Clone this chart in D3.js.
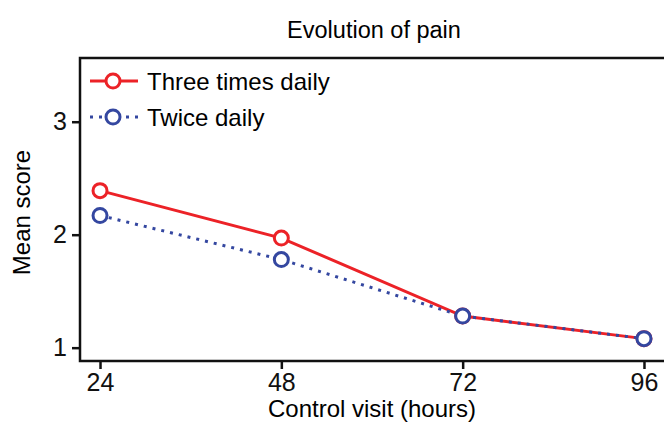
<!DOCTYPE html>
<html>
<head>
<meta charset="utf-8">
<script src="https://cdn.jsdelivr.net/npm/d3@7"></script>
<style>
  body { margin: 0; background: #fff; }
  svg { display: block; font-family: "Liberation Sans", Arial, sans-serif; }
</style>
</head>
<body>
<svg id="chart" width="664" height="422"></svg>
<script>
// data
const hours = [24, 48, 72, 96];
const threeTimesDaily = [2.39, 1.97, 1.28, 1.08];
const twiceDaily = [2.17, 1.78, 1.28, 1.08];
const yTicks = [1, 2, 3];
const seriesNames = ["Three times daily", "Twice daily"];

const svg = d3.select("#chart");
const plotLeft = 80, plotRight = 664, plotTop = 58, plotBottom = 361;

const x = d3.scaleLinear().domain([21.35, 98.65]).range([plotLeft, plotRight]);
const y = d3.scaleLinear().domain([0.882, 3.564]).range([plotBottom, plotTop]);

const red = "#ec2227";
const blue = "#3447a0";

// title
svg.append("text")
  .attr("x", 374).attr("y", 38)
  .attr("text-anchor", "middle")
  .attr("font-size", "23.5px")
  .text("Evolution of pain");

// axes
const xAxis = svg.append("g")
  .attr("transform", `translate(0,${plotBottom})`)
  .call(d3.axisBottom(x).tickValues(hours).tickSize(8).tickPadding(4).tickFormat(d3.format("d")));
const yAxis = svg.append("g")
  .attr("transform", `translate(${plotLeft},0)`)
  .call(d3.axisLeft(y).tickValues(yTicks).tickSize(8).tickPadding(5).tickFormat(d3.format("d")));

[xAxis, yAxis].forEach(a => {
  a.select(".domain").remove();
  a.selectAll("line").attr("stroke", "#111").attr("stroke-width", 2.5);
  a.selectAll("text").attr("font-size", "25px").attr("fill", "#111")
    .attr("font-family", "Liberation Sans, Arial, sans-serif");
});

// frame (left, bottom, top)
svg.append("path")
  .attr("d", `M${plotRight},${plotTop}H${plotLeft}V${plotBottom}H${plotRight}`)
  .attr("fill", "none").attr("stroke", "#111").attr("stroke-width", 2.5);

// axis titles
svg.append("text")
  .attr("x", 372).attr("y", 417)
  .attr("text-anchor", "middle")
  .attr("font-size", "24px")
  .text("Control visit (hours)");
svg.append("text")
  .attr("transform", `translate(30,${(plotTop + plotBottom) / 2 + 3}) rotate(-90)`)
  .attr("text-anchor", "middle")
  .attr("font-size", "24px")
  .text("Mean score");

const line = d3.line().x((d, i) => x(hours[i])).y(d => y(d));

// series
svg.append("path").datum(threeTimesDaily)
  .attr("d", line).attr("fill", "none")
  .attr("stroke", red).attr("stroke-width", 3);
svg.append("path").datum(twiceDaily)
  .attr("d", line).attr("fill", "none")
  .attr("stroke", blue).attr("stroke-width", 3)
  .attr("stroke-dasharray", "3,6");

svg.selectAll("circle.red").data(threeTimesDaily).enter().append("circle")
  .attr("class", "red")
  .attr("cx", (d, i) => x(hours[i])).attr("cy", d => y(d)).attr("r", 7)
  .attr("fill", "#fff").attr("stroke", red).attr("stroke-width", 3);
svg.selectAll("circle.blue").data(twiceDaily).enter().append("circle")
  .attr("class", "blue")
  .attr("cx", (d, i) => x(hours[i])).attr("cy", d => y(d)).attr("r", 7)
  .attr("fill", "#fff").attr("stroke", blue).attr("stroke-width", 3);

// legend
const legend = svg.append("g").attr("transform", "translate(90,81)");
[[red, null], [blue, "3,6"]].forEach(([c, dash], i) => {
  const g = legend.append("g").attr("transform", `translate(0,${i * 36})`);
  g.append("line").attr("x1", 0).attr("x2", 48)
    .attr("stroke", c).attr("stroke-width", 3)
    .attr("stroke-dasharray", dash);
  g.append("circle").attr("cx", 23).attr("r", 7)
    .attr("fill", "#fff").attr("stroke", c).attr("stroke-width", 3);
  g.append("text").attr("x", 57).attr("y", 9)
    .attr("font-size", "24px").text(seriesNames[i]);
});
</script>
</body>
</html>
